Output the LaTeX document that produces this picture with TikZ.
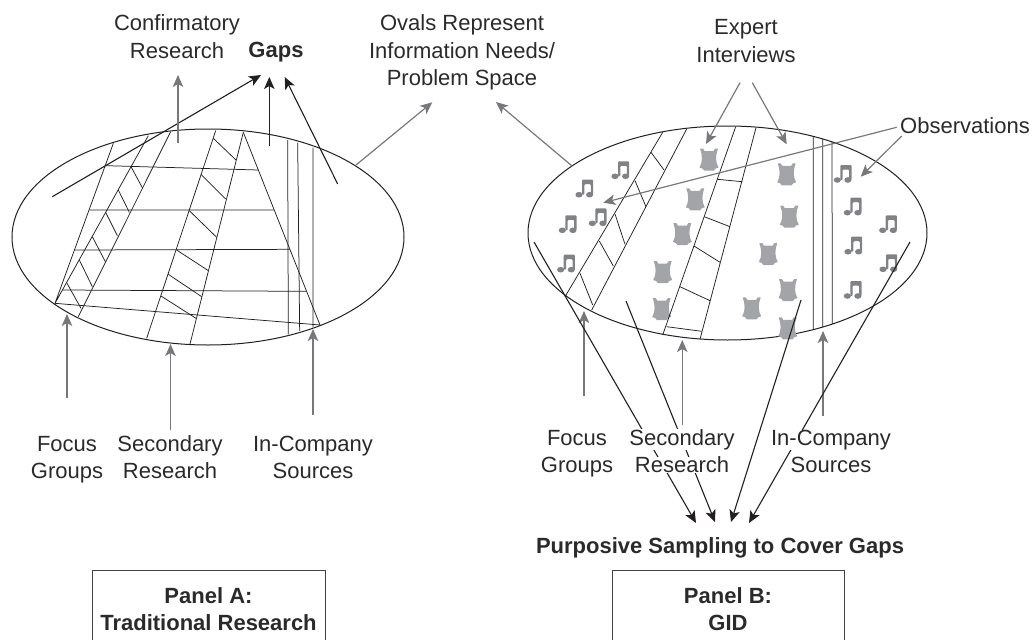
\documentclass[tikz,border=0pt]{standalone}
\usepackage{fontspec}
\setmainfont{Liberation Sans}
\usetikzlibrary{arrows.meta}
\definecolor{ink}{HTML}{231F20}
\definecolor{txt}{HTML}{2B2A2B}
\definecolor{gry}{HTML}{77787B}
\definecolor{icn}{HTML}{A3A4A7}
\definecolor{nte}{HTML}{808285}
\setlength{\fboxsep}{0pt}
\newcommand{\wl}[1]{\colorbox{white}{#1}}
\tikzset{
  lbl/.style={font=\fontsize{22}{27.5}\selectfont,text=txt,align=center,inner sep=0pt,anchor=base},
  bld/.style={lbl,font=\fontsize{22}{27.5}\selectfont\bfseries},
  panelbox/.style={bld,anchor=center,draw=ink!85,line width=.9pt,minimum height=78pt},
  oval/.style={draw=ink,line width=1pt},
  fine/.style={draw=ink,line width=.75pt},
  blackarrow/.style={draw=ink,line width=1.1pt,-{Stealth[length=12pt,width=10.5pt,inset=3pt]}},
  greyarrow/.style={draw=gry,line width=1.2pt,-{Stealth[length=12pt,width=10.5pt,inset=3pt]}},
  corset/.pic={\fill[icn] (-9,-11) -- (-6,-11) -- (-4.5,-8.5) -- (4.5,-8.5) -- (6,-11) -- (9,-11)
     .. controls (6.4,-4) and (6.4,3) .. (9.5,8) -- (6.5,9) -- (5,11) -- (-5,11) -- (-6.5,9) -- (-9.5,8)
     .. controls (-6.4,3) and (-6.4,-4) .. (-9,-11) -- cycle;},
  note/.pic={\fill[nte] (-6,6) ellipse [x radius=3.6,y radius=2.8];
     \fill[nte] (4.6,6) ellipse [x radius=3.6,y radius=2.8];
     \fill[nte,rounded corners=1pt] (-3,6) -- (-3,-9) -- (8.2,-9) -- (8.2,6) -- (5.8,6) -- (5.8,-4.5) -- (-.6,-4.5) -- (-.6,6) -- cycle;},
}
\begin{document}
\begin{tikzpicture}[x=1pt,y=-1pt]
\useasboundingbox (0,0) rectangle (1034,640);
\clip (0,0) rectangle (1034,640);
% ---- Panel A oval
\draw[oval] (208,237) ellipse [x radius=196,y radius=108];
\begin{scope}[shift={(0,90)},x=1pt/3,y=-1pt/3]
\draw[fine] (340,160)--(165,640) (445,137)--(165,640) (512,125)--(235,680);
\draw[fine] (393,230)--(428,295) (355,300)--(388,367) (317,367)--(352,437) (277,440)--(316,515) (238,510)--(277,590) (200,578)--(243,655);
\draw[fine] (647,122)--(440,745) (730,127)--(570,762);
\draw[fine] (640,145)--(708,210) (603,253)--(677,327) (568,362)--(650,442) (530,480)--(625,542) (505,553)--(605,620) (483,618)--(588,685);
\draw[fine] (730,127)--(960,705);
\draw[fine] (317,227)--(775,240) (268,360)--(822,360) (224,480)--(870,478) (187,600)--(918,604) (165,640)--(960,705);
\draw[fine] (863,150)--(865,733) (893,158)--(899,723) (939,173)--(939,712);
\end{scope}
% ---- Panel B oval
\draw[oval] (727.5,233) ellipse [x radius=199.5,y radius=107];
\foreach \p in {(786.7,174.3),(789.3,216.7),(768.3,254),(788,290),(751.7,308.3),(787.7,328.3),(709,159.5),(695.3,199.3),(682.3,234),(662.7,272),(661.7,309)}
  \pic at \p {corset};
\foreach \p in {(843.3,174),(853.3,206.7),(888.7,224.3),(854,245.7),(889,263.3),(853.3,290),(621,170.3),(585,188.7),(598.3,217.3),(568.3,224.3),(566.7,263.7)}
  \pic at \p {note};
\draw[fine] (662.7,132.3)--(565,296.7) (686.7,129)--(591.7,310);
\draw[fine] (651,152.3)--(664,170) (635,180.7)--(646,206.7) (615,214)--(625,244.3) (599.3,241)--(613.3,266) (580,273.3)--(592.7,305);
\draw[fine] (735.7,126.7)--(662.7,335) (756,127.7)--(700,339.3);
\draw[fine] (717.3,179.3)--(742.3,181.7) (704.3,216.7)--(730,226.7) (694,246)--(720,262.3) (680,286.7)--(710,300.7) (666.7,326.7)--(701.7,331.3);
\draw[fine] (813.3,136.7)--(813.3,330) (822.7,139)--(822.7,327) (832,142)--(832.3,324);
% ---- free ends of connectors
\coordinate (gA1) at (52.3,196.7);   \coordinate (gA1t) at (261,75);
\coordinate (gA2) at (269.3,146);    \coordinate (gA2t) at (269.3,77);
\coordinate (gA3) at (337.7,184);    \coordinate (gA3t) at (284.7,77);
\coordinate (cf) at (178,143);       \coordinate (cft) at (178,75);
\coordinate (ovA) at (356,165);      \coordinate (ovAt) at (432.3,102.3);
\coordinate (ovB) at (571.7,165.7);  \coordinate (ovBt) at (496,102);
\coordinate (fgA) at (67,398);       \coordinate (fgAt) at (67,314);
\coordinate (srA) at (170.5,430);    \coordinate (srAt) at (170.5,344);
\coordinate (icA) at (313,415);      \coordinate (icAt) at (313,329);
\coordinate (fgB) at (584,396);      \coordinate (fgBt) at (584,311);
\coordinate (srB) at (682.3,425);    \coordinate (srBt) at (682.3,340);
\coordinate (icB) at (823,416);      \coordinate (icBt) at (823,331);
\coordinate (exS1) at (740,82.7);    \coordinate (exT1) at (706,144);
\coordinate (exS2) at (752.3,82.7);  \coordinate (exT2) at (786.7,144.3);
\coordinate (obS1) at (896.7,127.3); \coordinate (obT1) at (603.3,202.7);
\coordinate (obS2) at (901.7,136);   \coordinate (obT2) at (860.7,176.7);
\coordinate (ps1) at (534,242);      \coordinate (ps1t) at (696,523);
\coordinate (ps2) at (626,301);      \coordinate (ps2t) at (715,522);
\coordinate (ps3) at (801,300);      \coordinate (ps3t) at (731,522);
\coordinate (ps4) at (910,242);      \coordinate (ps4t) at (749,523);
% ---- connectors
\draw[blackarrow] (gA1)--(gA1t);
\draw[blackarrow] (gA2)--(gA2t);
\draw[blackarrow] (gA3)--(gA3t);
\draw[greyarrow] (cf)--(cft);
\draw[greyarrow] (ovA)--(ovAt);
\draw[greyarrow] (ovB)--(ovBt);
\draw[greyarrow] (fgA)--(fgAt);
\draw[greyarrow] (srA)--(srAt);
\draw[greyarrow] (icA)--(icAt);
\draw[greyarrow] (fgB)--(fgBt);
\draw[greyarrow] (srB)--(srBt);
\draw[greyarrow] (icB)--(icBt);
\draw[greyarrow] (exS1)--(exT1);
\draw[greyarrow] (exS2)--(exT2);
\draw[greyarrow] (obS1)--(obT1);
\draw[greyarrow] (obS2)--(obT2);
\draw[blackarrow] (ps1)--(ps1t);
\draw[blackarrow] (ps2)--(ps2t);
\draw[blackarrow] (ps3)--(ps3t);
\draw[blackarrow] (ps4)--(ps4t);
% ---- labels
\node[lbl] (confirm) at (177,58) {Confirmatory\\Research};
\node[bld] (gaps) at (276,57) {Gaps};
\node[lbl] (ovals) at (462,85.5) {Ovals Represent\\Information Needs/\\Problem Space};
\node[lbl] (expert) at (746,62) {Expert\\Interviews};
\node[lbl] (obs) at (965,133) {Observations};
\node[lbl] (fA) at (67,478.5) {Focus\\Groups};
\node[lbl] (sA) at (170,478.5) {Secondary\\Research};
\node[lbl] (iA) at (313,478.5) {In-Company\\Sources};
\node[lbl] (fB) at (577,472.5) {Focus\\Groups};
\node[lbl] (sB) at (682,472.5) {\wl{Secondary}\\\wl{Research}};
\node[lbl] (iB) at (831,472.5) {\wl{In-Company}\\Sources};
\node[bld] (purp) at (720,553) {Purposive Sampling to Cover Gaps};
\node[panelbox,minimum width=233pt] (pA) at (208.5,609) {Panel A:\\Traditional Research};
\node[panelbox,minimum width=232pt] (pB) at (728,609) {Panel B:\\GID};
\end{tikzpicture}
\end{document}
